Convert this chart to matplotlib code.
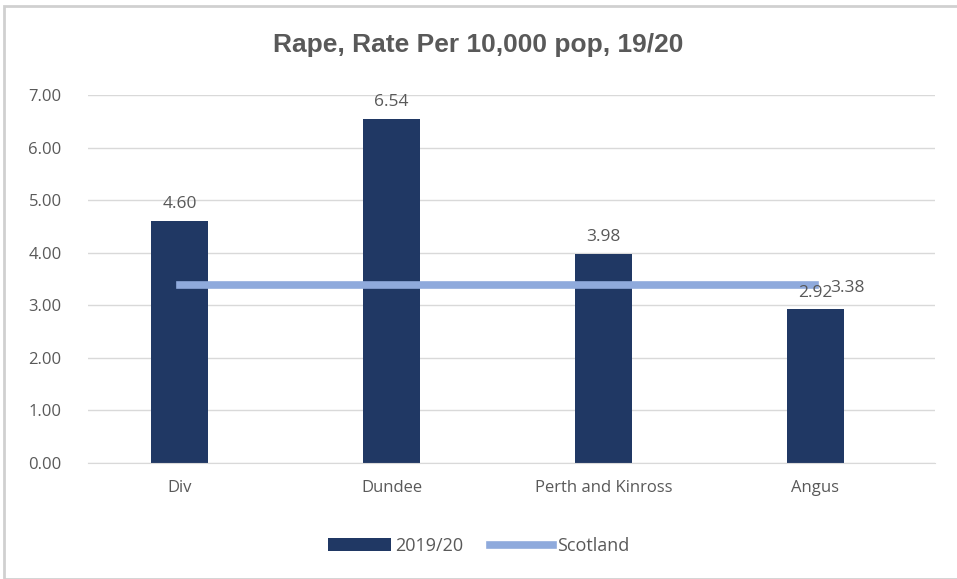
import matplotlib
matplotlib.use("Agg")
import matplotlib.pyplot as plt
from matplotlib.patches import Rectangle

# chart data
areas = ["Div", "Dundee", "Perth and Kinross", "Angus"]
rate_1920 = [4.60, 6.54, 3.98, 2.92]
scotland = [3.38, 3.38, 3.38, 3.38]
y_ticks = [0, 1, 2, 3, 4, 5, 6, 7]

plt.rcParams["font.family"] = ["Open Sans", "DejaVu Sans"]
grey = "#595959"

fig = plt.figure(figsize=(9.57, 5.79), dpi=100)
ax = fig.add_axes([88 / 957, 1 - 463 / 579, (935 - 88) / 957, (463 - 95) / 579])

x = list(range(len(areas)))
bars = ax.bar(x, rate_1920, width=0.27, color="#203864", label="2019/20", zorder=2)
line, = ax.plot(x, scotland, color="#8faadc", linewidth=5.5, label="Scotland", zorder=3)

for xi, v in zip(x, rate_1920):
    ax.text(xi, v + 0.17, f"{v:.2f}", ha="center", va="bottom", fontsize=12.5, color=grey, zorder=4)
ax.text(x[-1] + 0.07, scotland[-1] - 0.05, f"{scotland[-1]:.2f}", ha="left", va="center",
        fontsize=12.5, color=grey, zorder=4)

ax.set_xlim(-0.434, 3.566)
ax.set_ylim(0, 7)
ax.set_yticks(y_ticks)
ax.set_yticklabels([f"{t:.2f}" for t in y_ticks])
ax.set_xticks(x)
ax.set_xticklabels(areas)
ax.tick_params(axis="both", length=0, labelsize=12, labelcolor=grey)
ax.tick_params(axis="y", pad=19)
ax.tick_params(axis="x", pad=12)
ax.grid(axis="y", color="#d9d9d9", linewidth=1, zorder=0)
for s in ["top", "right", "left"]:
    ax.spines[s].set_visible(False)
ax.spines["bottom"].set_color("#d9d9d9")

fig.text(0.5, 1 - 45 / 579, "Rape, Rate Per 10,000 pop, 19/20", ha="center", va="center",
         fontsize=19, fontweight="bold", color=grey, family=["Liberation Sans", "DejaVu Sans"])

fig.legend(handles=[bars, line], loc="center", bbox_to_anchor=(0.5, 1 - 546 / 579), ncol=2,
           frameon=False, fontsize=13, labelcolor=grey, handlelength=3.5, handletextpad=0.2,
           columnspacing=1.5)

fig.patches.append(Rectangle((4 / 957, 0), 1, 1 - 6 / 579, transform=fig.transFigure,
                             fill=False, edgecolor="#d0d0d0", linewidth=2))

fig.savefig("out.png", dpi=100)
